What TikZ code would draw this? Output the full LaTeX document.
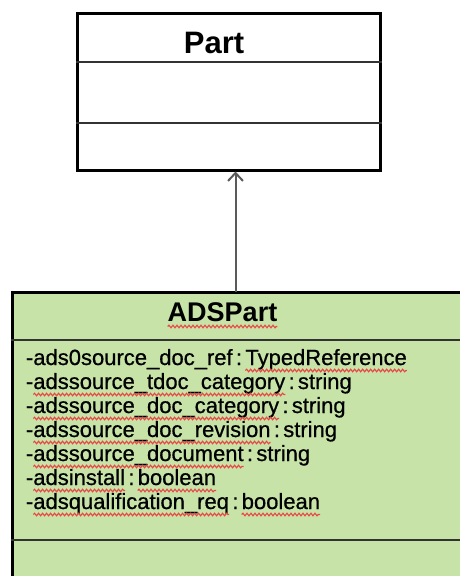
\documentclass[tikz,border=0pt]{standalone}
\usepackage{fontspec}
\setmainfont{Liberation Sans}
\newfontfamily\attrfont{Liberation Sans}[FakeBold=0.7]
\usetikzlibrary{arrows.meta,decorations.pathmorphing}
\definecolor{adsgreen}{RGB}{199,227,167}
\definecolor{wavered}{RGB}{235,70,70}
\definecolor{divgray}{RGB}{50,50,50}
\definecolor{arrgray}{RGB}{90,90,90}
\tikzset{
  classbox/.style={draw=black, line width=3pt, inner sep=0pt, rectangle},
  divider/.style={draw=divgray, line width=1.6pt},
  attr/.style={anchor=base west, inner sep=0pt, outer sep=0pt, font=\attrfont\fontsize{22}{24}\selectfont},
  titlefont/.style={anchor=base, inner sep=0pt, outer sep=0pt},
  wave/.style={draw=wavered, line width=1.1pt, decorate, decoration={snake, segment length=4pt, amplitude=1.3pt}},
  inherit/.style={draw=arrgray, line width=2pt, -{Straight Barb[length=8pt,width=15pt,line width=2pt]}}
}
\newcommand\sqline[1]{\draw[wave] ([yshift=-5.5pt]#1.base west) -- ([yshift=-5.5pt]#1.base east);}
\newcommand\sep{\kern.15em:\kern.15em}
\begin{document}
\begin{tikzpicture}[x=1pt,y=-1pt]
\path[use as bounding box, clip] (0,0) rectangle (460,576);
\fill[white] (0,0) rectangle (460,576);
% Part class
\node[classbox, fill=white, minimum width=303pt, minimum height=157pt] (part) at (229,91.5) {};
\draw[divider] (part.west |- 0,62) -- (part.east |- 0,62);
\draw[divider] (part.west |- 0,123) -- (part.east |- 0,123);
\node[titlefont, font=\bfseries\fontsize{31}{34}\selectfont] (parttitle) at (214,53) {Part};
% ADSPart class
\node[classbox, fill=adsgreen, minimum width=470pt, minimum height=310pt] (ads) at (247,447) {};
\draw[divider] (ads.west |- 0,340) -- (ads.east |- 0,340);
\draw[divider] (ads.west |- 0,540) -- (ads.east |- 0,540);
\node[titlefont, font=\bfseries\fontsize{27}{30}\selectfont] (adstitle) at (222.5,321) {ADSPart};
\sqline{adstitle}
% attributes
\node[attr] (a1p) at (26,365) {-ads0source\_doc\_ref\sep};
\node[attr] (a1w) at (a1p.base east) {TypedReference};
\sqline{a1w}
\node[attr] (a2p) at (26,389) {-};
\node[attr] (a2w) at (a2p.base east) {adssource\_tdoc\_category};
\node[attr] (a2s) at (a2w.base east) {\sep string};
\sqline{a2w}
\node[attr] (a3p) at (26,413) {-};
\node[attr] (a3w) at (a3p.base east) {adssource\_doc\_category};
\node[attr] (a3s) at (a3w.base east) {\sep string};
\sqline{a3w}
\node[attr] (a4p) at (26,437) {-};
\node[attr] (a4w) at (a4p.base east) {adssource\_doc\_revision};
\node[attr] (a4s) at (a4w.base east) {\sep string};
\sqline{a4w}
\node[attr] (a5p) at (26,461) {-};
\node[attr] (a5w) at (a5p.base east) {adssource\_document};
\node[attr] (a5s) at (a5w.base east) {\sep string};
\sqline{a5w}
\node[attr] (a6p) at (26,485) {-};
\node[attr] (a6w) at (a6p.base east) {adsinstall};
\node[attr] (a6s) at (a6w.base east) {\sep};
\node[attr] (a6t) at (a6s.base east) {boolean};
\sqline{a6w}
\sqline{a6t}
\node[attr] (a7p) at (26,509) {-};
\node[attr] (a7w) at (a7p.base east) {adsqualification\_req};
\node[attr] (a7s) at (a7w.base east) {\sep};
\node[attr] (a7t) at (a7s.base east) {boolean};
\sqline{a7w}
\sqline{a7t}
% generalization
\coordinate (tail) at (235.5,292);
\draw[inherit] (tail) -- (tail |- part.south);
\end{tikzpicture}
\end{document}
